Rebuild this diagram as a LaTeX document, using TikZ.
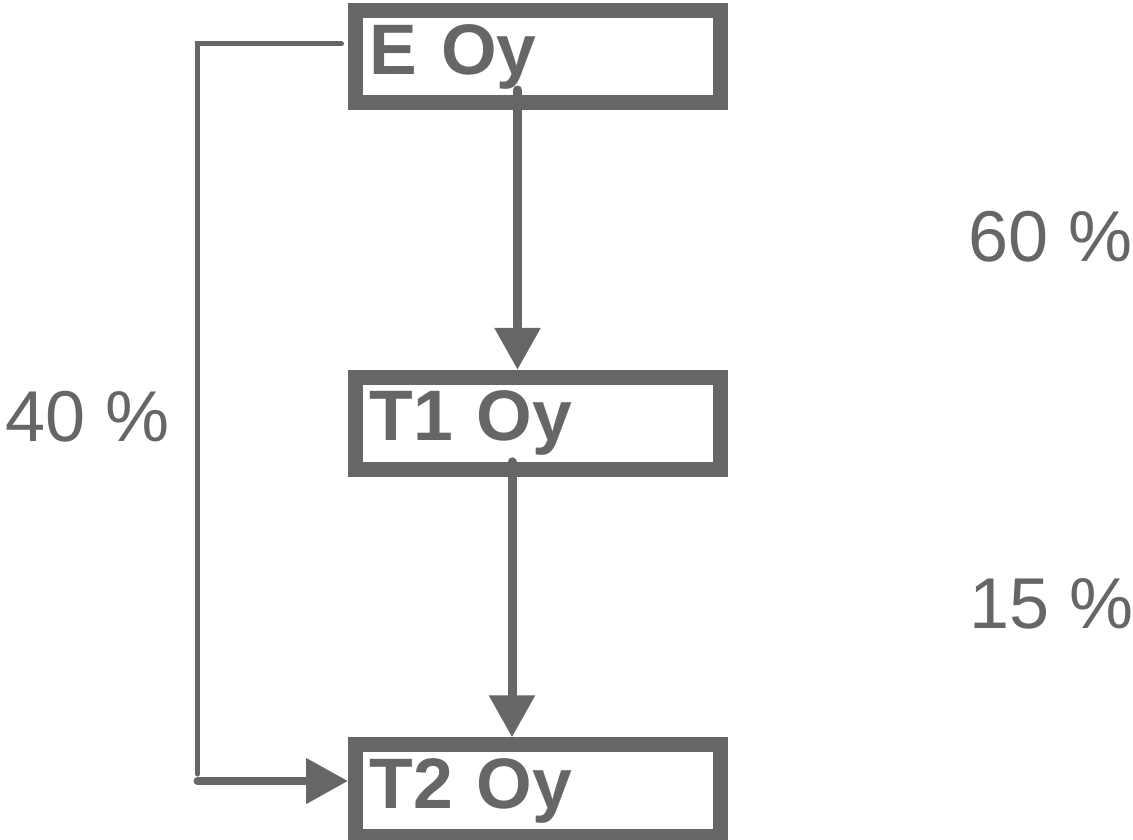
\documentclass[tikz,border=0pt]{standalone}
\usepackage{fontspec}
\setmainfont{Liberation Sans}
\usetikzlibrary{arrows.meta}
\definecolor{dgray}{RGB}{102,102,102}
\begin{document}
\begin{tikzpicture}[x=1pt,y=-1pt,
  box/.style={draw=dgray, line width=15pt, fill=white, rectangle,
    text width=337pt, inner xsep=14pt, inner ysep=0pt, minimum height=92pt,
    align=left, text=dgray, font=\fontsize{71.5}{80}\selectfont\bfseries},
  pct/.style={anchor=base west, inner sep=0pt, text=dgray,
    font=\fontsize{72}{80}\selectfont},
  thinln/.style={draw=dgray, line width=5pt, line cap=round},
  arr/.style={draw=dgray, line width=9pt, line cap=round,
    -{Triangle[width=44pt,length=42pt]}},
  arrb/.style={draw=dgray, line width=8pt, line cap=round,
    -{Triangle[width=44pt,length=42pt]}}]
\useasboundingbox (0,0) rectangle (1133,840);
\node[box] (E)  at (538,57)    {E Oy};
\node[box] (T1) at (538,423.3) {T1 Oy};
\node[box] (T2) at (538,790.8) {T2 Oy};
\node[pct] (p60) at (968.5,261.7) {60 \%};
\node[pct] (p15) at (969,628)     {15 \%};
\node[pct] (p40) at (5,441.7)     {40 \%};
\draw[arr] ([xshift=-20.5pt,yshift=20.5pt]E.south) -- ([xshift=-20.5pt]T1.north);
\draw[arr] ([xshift=-26pt,yshift=15pt]T1.south) -- ([xshift=-26pt]T2.north);
\coordinate (lc) at (197.5,44);
\coordinate (bc) at (197.5,781);
\draw[thinln] ([xshift=-6.5pt,yshift=13pt]E.west) -- (lc) -- ([yshift=7pt]bc);
\draw[arrb] (bc) -- (bc -| T2.west);
\end{tikzpicture}
\end{document}
